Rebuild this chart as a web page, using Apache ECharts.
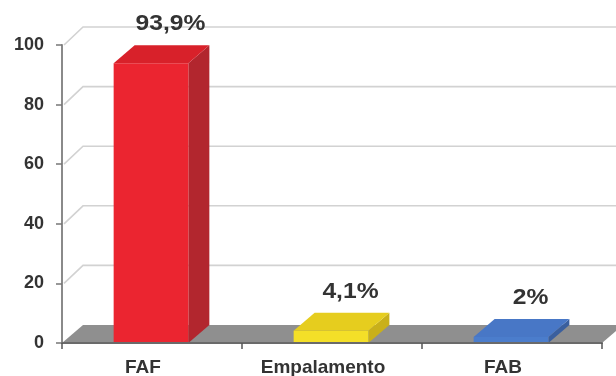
<!DOCTYPE html>
<html>
<head>
<meta charset="utf-8">
<script src="https://cdn.jsdelivr.net/npm/echarts@6/dist/echarts.min.js"></script>
<style>
  html, body { margin: 0; padding: 0; background: #ffffff; }
  #chart { width: 616px; height: 376px; }
</style>
</head>
<body>
<div id="chart"></div>
<script>
// Categories and percentages
const categories = ['FAF', 'Empalamento', 'FAB'];
const values = [93.9, 4.1, 2];
const yTicks = [0, 20, 40, 60, 80, 100];

// Pseudo-3D depth of the walls, floor and bars (pixels)
const DX = 21;
const DY = -18;

// Face shades for each bar: front, top, side
const barShades = [
  { front: '#eb2530', top: '#d8212a', side: '#b2262e' },
  { front: '#f4df28', top: '#e6cd1e', side: '#c9b01a' },
  { front: '#4b7dcc', top: '#4877c6', side: '#3a5f9e' }
];

const FONT = "'Liberation Sans', Arial, sans-serif";

function formatPct(v) {
  return String(v).replace('.', ',') + '%';
}

// Back wall grid lines with their side-wall diagonals, and the grey floor at 0
function renderWalls(params, api) {
  const cs = params.coordSys;
  const v = api.value(1);
  const y = api.coord([0, v])[1];
  if (v === 0) {
    return {
      type: 'polygon',
      shape: {
        points: [
          [cs.x, y],
          [cs.x + DX, y + DY],
          [cs.x + cs.width + DX, y + DY],
          [cs.x + cs.width, y]
        ]
      },
      style: { fill: '#8f8f8f', stroke: null }
    };
  }
  return {
    type: 'polyline',
    shape: {
      points: [
        [cs.x + 2, y],
        [cs.x + DX, y + DY],
        [cs.x + cs.width + DX + 10, y + DY]
      ]
    },
    style: { stroke: '#d2d2d2', lineWidth: 1.6, fill: null }
  };
}

// Box-shaped bars with a value label above each top face
function renderBars(params, api) {
  const i = api.value(0);
  const v = api.value(1);
  const base = api.coord([i, 0]);
  const top = api.coord([i, v]);
  const band = api.size([1, 0])[0];
  const w = band * 0.415;
  const x0 = base[0] - w / 2 - 1;
  const x1 = x0 + w;
  const yt = top[1];
  const yb = base[1];
  const c = barShades[params.dataIndex];
  return {
    type: 'group',
    children: [
      {
        type: 'polygon',
        shape: { points: [[x1, yt], [x1 + DX, yt + DY], [x1 + DX, yb + DY], [x1, yb]] },
        style: { fill: c.side }
      },
      {
        type: 'rect',
        shape: { x: x0, y: yt, width: w, height: yb - yt },
        style: { fill: c.front }
      },
      {
        type: 'polygon',
        shape: { points: [[x0, yt], [x0 + DX, yt + DY], [x1 + DX, yt + DY], [x1, yt]] },
        style: { fill: c.top }
      },
      {
        type: 'text',
        x: (x0 + x1) / 2 + DX / 2 + 9,
        y: yt + DY - 21,
        scaleX: 1.12,
        style: {
          text: formatPct(v),
          fill: '#333333',
          font: 'bold 22px ' + FONT,
          align: 'center',
          verticalAlign: 'middle'
        }
      }
    ]
  };
}

const chart = echarts.init(document.getElementById('chart'), null, { renderer: 'canvas' });

chart.setOption({
  backgroundColor: '#ffffff',
  animation: false,
  grid: {
    left: 62,
    right: 14,
    top: 45,
    bottom: 33,
    containLabel: false,
    outerBoundsMode: 'none'
  },
  xAxis: {
    type: 'category',
    data: categories,
    boundaryGap: true,
    z: 10,
    axisLine: { show: true, lineStyle: { color: '#6a6a6a', width: 2 } },
    axisTick: { show: true, length: 6, lineStyle: { color: '#555555', width: 1.5 } },
    axisLabel: {
      margin: 15,
      fontSize: 19,
      fontWeight: 'bold',
      fontFamily: FONT,
      color: '#333333',
      padding: [0, 18, 0, 0]
    },
    splitLine: { show: false }
  },
  yAxis: {
    type: 'value',
    min: 0,
    max: 100,
    interval: 20,
    z: 10,
    axisLine: { show: true, lineStyle: { color: '#8a8a8a', width: 2 } },
    axisTick: { show: true, length: 6, lineStyle: { color: '#777777', width: 1.5 } },
    axisLabel: {
      margin: 18,
      fontSize: 18,
      fontWeight: 'bold',
      fontFamily: FONT,
      color: '#333333'
    },
    splitLine: { show: false }
  },
  series: [
    {
      type: 'custom',
      name: 'walls',
      z: 1,
      silent: true,
      clip: false,
      renderItem: renderWalls,
      data: yTicks.map(function (v) { return [0, v]; })
    },
    {
      type: 'custom',
      name: 'bars',
      z: 3,
      clip: false,
      renderItem: renderBars,
      data: values.map(function (v, i) { return [i, v]; })
    }
  ]
});
</script>
</body>
</html>
